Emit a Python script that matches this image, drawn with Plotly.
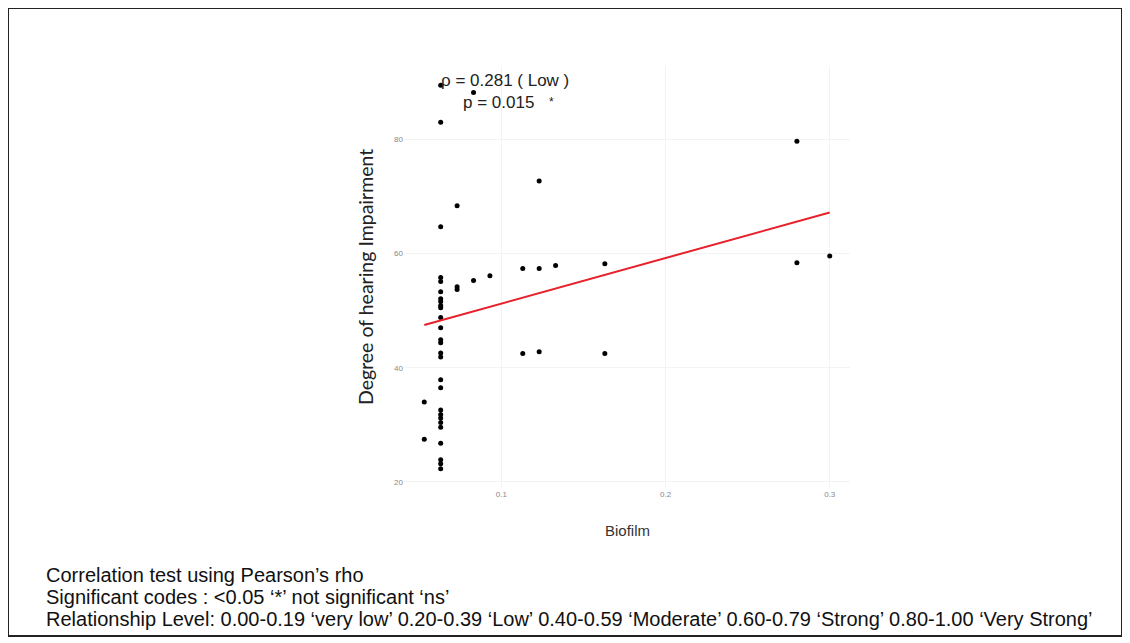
import numpy as np
import plotly.graph_objects as go

# ---- data ----
biofilm = [0.063] * 27 + [0.053, 0.053,
           0.073, 0.073, 0.073,
           0.083, 0.083,
           0.093,
           0.113, 0.113,
           0.123, 0.123, 0.123,
           0.133,
           0.163, 0.163,
           0.280, 0.280,
           0.300]
hearing = [89.5, 83.0, 64.7, 55.8, 55.1, 53.3, 52.1, 51.6, 50.9, 50.5, 48.8, 47.0,
           44.9, 44.4, 42.6, 41.9, 37.9, 36.5, 32.6, 31.8, 31.2, 30.4, 29.6, 26.8,
           23.9, 23.2, 22.3,
           34.0, 27.5,
           68.4, 54.2, 53.7,
           88.2, 55.3,
           56.1,
           57.4, 42.5,
           72.7, 57.4, 42.8,
           57.9,
           58.2, 42.5,
           79.7, 58.4,
           59.6]
# fitted regression line as drawn in the picture (end points)
fit_x = [0.053, 0.300]
fit_y = [47.5, 67.2]
x_ticks = [0.1, 0.2, 0.3]
x_tick_labels = ["0.1", "0.2", "0.3"]
y_ticks = [20, 40, 60, 80]
y_tick_labels = ["20", "40", "60", "80"]
stat_line1 = "ρ = 0.281 ( Low )"
stat_line2 = "p = 0.015"
sig_mark = "*"
x_title = "Biofilm"
y_title = "Degree of hearing Impairment"
notes = [
    "Correlation test using Pearson’s rho",
    "Significant codes : <0.05 ‘*’ not significant ‘ns’",
    "Relationship Level: 0.00-0.19 ‘very low’ 0.20-0.39 ‘Low’ 0.40-0.59 ‘Moderate’ 0.60-0.79 ‘Strong’ 0.80-1.00 ‘Very Strong’",
]

# ---- layout geometry (screen pixels; page body has an 8px offset) ----
W, H = 1130, 643
OFF = 8
SPL, SPR, SPT, SPB = 404, 850, 66, 488


def px(sx):
    return (sx - SPL) / (SPR - SPL)


def py(sy):
    return (SPB - sy) / (SPB - SPT)


xa = np.array(biofilm)
ya = np.array(hearing)

fig = go.Figure()
fig.add_trace(go.Scatter(x=biofilm, y=hearing, mode="markers",
                         marker=dict(color="black", size=5), showlegend=False,
                         hoverinfo="x+y"))
fig.add_trace(go.Scatter(x=fit_x, y=fit_y, mode="lines",
                         line=dict(color="#e8202a", width=2), showlegend=False))

rng_x = xa.max() - xa.min()
rng_y = ya.max() - ya.min()
fig.update_xaxes(range=[xa.min() - 0.05 * rng_x, xa.max() + 0.05 * rng_x],
                 tickvals=x_ticks, ticktext=x_tick_labels,
                 tickfont=dict(size=8, color="#888888", family="Liberation Sans"),
                 showgrid=True, gridcolor="#f3f3f3", gridwidth=1,
                 zeroline=False, showline=False, ticks="")
fig.update_yaxes(range=[ya.min() - 0.05 * rng_y, ya.max() + 0.05 * rng_y],
                 tickvals=y_ticks, ticktext=y_tick_labels,
                 tickfont=dict(size=8, color="#888888", family="Liberation Sans"),
                 showgrid=True, gridcolor="#f3f3f3", gridwidth=1,
                 zeroline=False, showline=False, ticks="")

annotations = [
    dict(text=stat_line1, x=px(439), y=py(80), xref="paper", yref="paper",
         xanchor="left", yanchor="middle", showarrow=False,
         font=dict(size=17, color="#222222", family="Liberation Sans")),
    dict(text=stat_line2, x=px(461), y=py(103), xref="paper", yref="paper",
         xanchor="left", yanchor="middle", showarrow=False,
         font=dict(size=17, color="#222222", family="Liberation Sans")),
    dict(text=sig_mark, x=px(551), y=py(102), xref="paper", yref="paper",
         xanchor="center", yanchor="middle", showarrow=False,
         font=dict(size=12, color="#222222", family="Liberation Sans")),
    dict(text=y_title, x=px(365), y=py(277), xref="paper", yref="paper",
         xanchor="center", yanchor="middle", textangle=-90, showarrow=False,
         font=dict(size=19.5, color="#222222", family="Lato")),
    dict(text=x_title, x=px(627), y=py(530), xref="paper", yref="paper",
         xanchor="center", yanchor="middle", showarrow=False,
         font=dict(size=15, color="#333333", family="Liberation Sans")),
]
for i, t in enumerate(notes):
    annotations.append(dict(text=t, x=px(44), y=py(575 + 22 * i), xref="paper", yref="paper",
                            xanchor="left", yanchor="middle", showarrow=False,
                            font=dict(size=20, color="#111111", family="Liberation Sans")))

shapes = [dict(type="rect", xref="paper", yref="paper",
               x0=px(8), x1=px(1122), y0=py(636), y1=py(8),
               line=dict(color="#222222", width=2), fillcolor="rgba(0,0,0,0)", layer="above")]

fig.update_layout(width=W, height=H,
                  margin=dict(l=SPL - OFF, r=W - (SPR - OFF), t=SPT - OFF, b=H - (SPB - OFF)),
                  paper_bgcolor="white", plot_bgcolor="white",
                  annotations=annotations, shapes=shapes)

fig.write_html("out.html")
